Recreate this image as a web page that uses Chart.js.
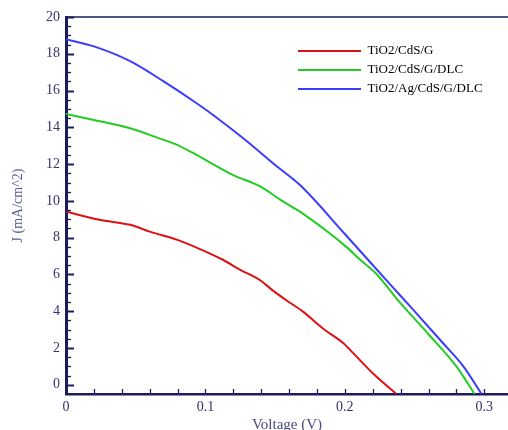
<!DOCTYPE html>
<html>
<head>
<meta charset="utf-8">
<script src="https://cdn.jsdelivr.net/npm/chart.js@4/dist/chart.umd.min.js"></script>
<style>
  html, body { margin: 0; padding: 0; background: #fff; }
  canvas { display: block; }
</style>
</head>
<body>
<canvas id="jvChart" width="508" height="430"></canvas>
<script>
// J-V curves
const redV   = [0, 0.024, 0.046, 0.06, 0.08, 0.094, 0.1125, 0.125, 0.139, 0.148, 0.158, 0.17, 0.184, 0.199, 0.206, 0.22, 0.237];
const redJ   = [9.42, 8.97, 8.7, 8.33, 7.88, 7.45, 6.8, 6.25, 5.7, 5.15, 4.6, 3.98, 3.08, 2.26, 1.72, 0.63, -0.5];

const greenV = [0, 0.02, 0.046, 0.067, 0.078, 0.09, 0.103, 0.12, 0.139, 0.155, 0.168, 0.189, 0.201, 0.211, 0.223, 0.238, 0.26, 0.28, 0.293];
const greenJ = [14.73, 14.4, 13.95, 13.4, 13.1, 12.65, 12.1, 11.4, 10.8, 10.0, 9.4, 8.24, 7.5, 6.8, 6.0, 4.6, 2.75, 1.0, -0.5];

const blueV  = [0, 0.02, 0.046, 0.07, 0.09, 0.105, 0.128, 0.15, 0.168, 0.2, 0.232, 0.247, 0.27, 0.285, 0.298];
const blueJ  = [18.79, 18.4, 17.6, 16.5, 15.5, 14.7, 13.35, 11.95, 10.85, 8.2, 5.5, 4.25, 2.3, 1.0, -0.5];

const seriesLabels = ['TiO2/CdS/G', 'TiO2/CdS/G/DLC', 'TiO2/Ag/CdS/G/DLC'];
const seriesColors = ['#dd1111', '#22cc22', '#3c3cff'];
const xTicks = [0, 0.1, 0.2, 0.3];
const xTickLabels = ['0', '0.1', '0.2', '0.3'];
const yTicks = [0, 2, 4, 6, 8, 10, 12, 14, 16, 18, 20];

const axisColor = '#1c1c5c';
const serif = "'Liberation Serif', 'Times New Roman', serif";

function pts(xs, ys) {
  return xs.map((v, i) => ({ x: v, y: ys[i] }));
}

// inward tick marks and top frame line
const frameTicks = {
  id: 'frameTicks',
  afterDatasetsDraw(chart) {
    const { ctx, chartArea: a, scales: { x, y } } = chart;
    ctx.save();
    ctx.strokeStyle = axisColor;
    ctx.lineWidth = 1.5;
    ctx.beginPath();
    ctx.moveTo(a.left, a.top);
    ctx.lineTo(a.right, a.top);
    ctx.stroke();

    for (let i = 0; i <= 40; i++) {
      const v = i * 0.5;
      const py = Math.round(y.getPixelForValue(v)) + 0.5;
      const major = i % 4 === 0;
      ctx.lineWidth = major ? 2 : 1.3;
      ctx.beginPath();
      ctx.moveTo(a.left, py);
      ctx.lineTo(a.left + (major ? 8 : 5), py);
      ctx.stroke();
    }
    for (let i = 1; i <= 15; i++) {
      const px = Math.round(x.getPixelForValue(i * 0.02)) + 0.5;
      ctx.lineWidth = 1.3;
      ctx.beginPath();
      ctx.moveTo(px, a.bottom);
      ctx.lineTo(px, a.bottom - 5);
      ctx.stroke();
    }
    ctx.restore();
  }
};

// move the legend to the upper right inside the plot
const legendPlace = {
  id: 'legendPlace',
  afterLayout(chart) {
    const l = chart.legend;
    if (!l) return;
    const w = l.width, h = l.height;
    l.left = 292;
    l.top = 38.5;
    l.right = l.left + w;
    l.bottom = l.top + h;
  }
};

Chart.defaults.font.family = serif;

const jvChart = document.getElementById('jvChart');

new Chart(jvChart, {
  type: 'line',
  data: {
    datasets: [
      { label: seriesLabels[0], data: pts(redV, redJ), borderColor: seriesColors[0], backgroundColor: seriesColors[0], borderWidth: 2 },
      { label: seriesLabels[1], data: pts(greenV, greenJ), borderColor: seriesColors[1], backgroundColor: seriesColors[1], borderWidth: 2 },
      { label: seriesLabels[2], data: pts(blueV, blueJ), borderColor: seriesColors[2], backgroundColor: seriesColors[2], borderWidth: 2 }
    ]
  },
  options: {
    responsive: false,
    animation: false,
    layout: { padding: { top: 17, right: 0, bottom: 0, left: 0 } },
    elements: {
      point: { radius: 0 },
      line: { cubicInterpolationMode: 'monotone' }
    },
    scales: {
      x: {
        type: 'linear',
        min: 0,
        max: 0.317,
        afterBuildTicks: (s) => { s.ticks = xTicks.map(v => ({ value: v })); },
        afterFit: (s) => { s.height = 36; },
        grid: { display: false, drawTicks: false },
        border: { display: true, color: axisColor, width: 2.5 },
        ticks: {
          padding: 5,
          color: '#33336e',
          font: { size: 14, family: serif },
          callback: (v, i) => xTickLabels[i]
        },
        title: {
          display: true,
          text: 'Voltage (V)',
          color: '#4a4a7e',
          font: { size: 15, family: serif, lineHeight: 0.6 },
          padding: 0
        }
      },
      y: {
        type: 'linear',
        min: -0.5,
        max: 20,
        afterBuildTicks: (s) => { s.ticks = yTicks.map(v => ({ value: v })); },
        afterFit: (s) => { s.width = 66; },
        grid: { display: false, drawTicks: false },
        border: { display: true, color: axisColor, width: 3 },
        ticks: {
          padding: 6,
          color: '#33336e',
          font: { size: 14, family: serif }
        },
        title: {
          display: true,
          text: 'J (mA/cm^2)',
          color: '#5a5a96',
          font: { size: 14, family: serif },
          padding: { top: 10, bottom: 0 }
        }
      }
    },
    plugins: {
      tooltip: { enabled: false },
      legend: {
        display: true,
        position: 'chartArea',
        align: 'start',
        labels: {
          usePointStyle: true,
          pointStyle: 'line',
          pointStyleWidth: 63,
          padding: 6,
          color: '#222',
          font: { size: 13, family: serif },
          generateLabels: (chart) => chart.data.datasets.map((ds, i) => ({
            text: ds.label,
            strokeStyle: seriesColors[i],
            fillStyle: seriesColors[i],
            lineWidth: 2,
            pointStyle: 'line',
            datasetIndex: i,
            hidden: false
          }))
        }
      }
    }
  },
  plugins: [frameTicks, legendPlace]
});
</script>
</body>
</html>
